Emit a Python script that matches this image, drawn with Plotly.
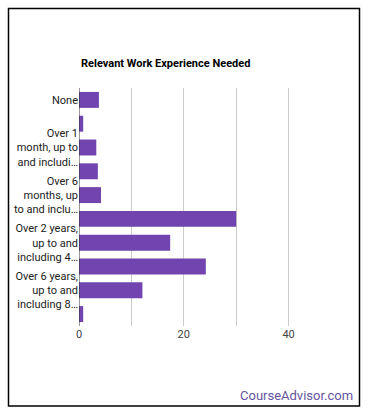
import plotly.graph_objects as go

categories = [
    "None",
    "Up to and including 1 month",
    "Over 1 month, up to and including 3 months",
    "Over 3 months, up to and including 6 months",
    "Over 6 months, up to and including 1 year",
    "Over 1 year, up to and including 2 years",
    "Over 2 years, up to and including 4 years",
    "Over 4 years, up to and including 6 years",
    "Over 6 years, up to and including 8 years",
    "Over 8 years, up to and including 10 years",
]
values = [3.8, 0.8, 3.3, 3.6, 4.2, 30.0, 17.4, 24.2, 12.1, 0.8]

label_cats = [categories[i] for i in (0, 2, 4, 6, 8)]
label_text = [
    "None",
    "Over 1<br>month, up to<br>and includi\u2026",
    "Over 6<br>months, up<br>to and inclu\u2026",
    "Over 2 years,<br>up to and<br>including 4\u2026",
    "Over 6 years,<br>up to and<br>including 8\u2026",
]
x_tickvals = [0, 10, 20, 30, 40]
x_ticktext = ["0", "", "20", "", "40"]

W, H = 370, 417
L, R, T, B = 79, 341, 88, 326
pw, ph = R - L, B - T

def px(x):
    return (x - L) / pw

def py(y):
    return (B - y) / ph

fig = go.Figure(go.Bar(
    x=values, y=categories, orientation="h",
    marker=dict(color="#7144B0", line=dict(width=0)),
    width=0.67, hoverinfo="x+y",
))

fig.update_layout(
    width=W, height=H,
    margin=dict(l=L, r=W - R, t=T, b=H - B),
    paper_bgcolor="white", plot_bgcolor="white",
    font=dict(family="Roboto", size=11, color="#222"),
    showlegend=False,
    xaxis=dict(range=[0, 50], tickvals=x_tickvals, ticktext=x_ticktext,
               showgrid=True, gridcolor="#cccccc", gridwidth=1,
               zeroline=False, showline=False, ticks="",
               tickfont=dict(size=11, color="#444")),
    yaxis=dict(autorange="reversed", tickvals=label_cats, ticktext=label_text,
               showgrid=False, showline=False, ticks="", zeroline=False,
               tickfont=dict(size=11, color="#222")),
    shapes=[
        dict(type="line", xref="x", yref="paper", x0=0, x1=0, y0=0, y1=1,
             line=dict(color="#333", width=1)),
        dict(type="rect", xref="paper", yref="paper",
             x0=px(8.5), x1=px(359.5), y0=py(406), y1=py(8.5),
             line=dict(color="black", width=1.5), layer="above"),
    ],
    annotations=[
        dict(text="<b>Relevant Work Experience Needed</b>", xref="paper", yref="paper",
             x=0, y=py(64), xanchor="left", yanchor="middle", showarrow=False,
             font=dict(size=11, color="#000")),
        dict(text="CourseAdvisor.com", xref="paper", yref="paper",
             x=px(355), y=py(395), xanchor="right", yanchor="middle", showarrow=False,
             font=dict(size=13, color="#6653A0")),
    ],
)

fig.write_html(
    "out.html",
    config={"displayModeBar": False},
    post_script="document.body.style.margin='0';document.body.style.overflow='hidden';",
)
